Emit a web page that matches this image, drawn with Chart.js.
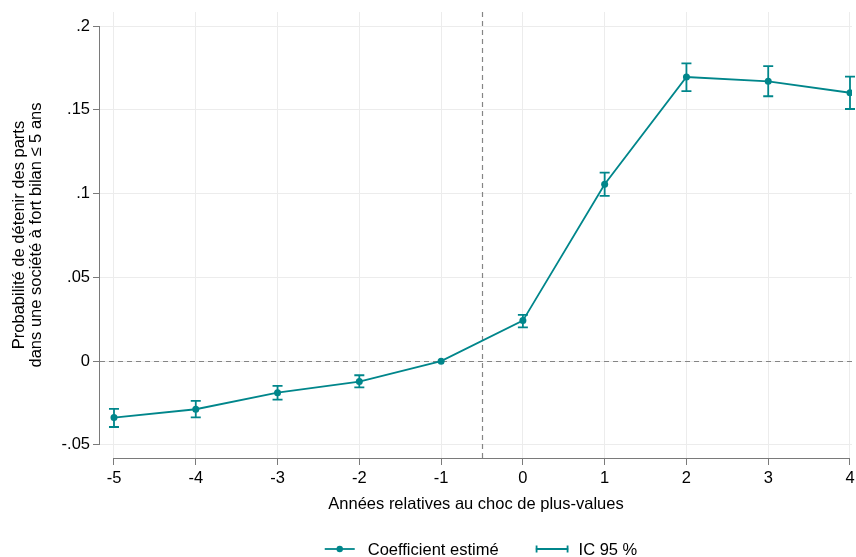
<!DOCTYPE html>
<html><head><meta charset="utf-8">
<script src="https://cdn.jsdelivr.net/npm/chart.js@4.4.1/dist/chart.umd.min.js"></script>
<style>html,body{margin:0;padding:0;background:#fff;overflow:hidden}</style>
</head><body><canvas id="c" width="856" height="557"></canvas>
<script>
const years = [-5, -4, -3, -2, -1, 0, 1, 2, 3, 4];
const coef = [-0.0337, -0.0287, -0.0188, -0.0122, 0, 0.0242, 0.1056, 0.1696, 0.1670, 0.1602];
const ciLow = [-0.0393, -0.0335, -0.0230, -0.0156, null, 0.0202, 0.0986, 0.1612, 0.1581, 0.1505];
const ciHigh = [-0.0285, -0.0237, -0.0148, -0.0084, null, 0.0276, 0.1125, 0.1777, 0.1761, 0.1698];
const xTicks = [-5, -4, -3, -2, -1, 0, 1, 2, 3, 4];
const yTicks = [-0.05, 0, 0.05, 0.1, 0.15, 0.2];
const yTickLabels = ['-.05', '0', '.05', '.1', '.15', '.2'];
const refX = [-0.5];
const refY = [0];
const xTitle = 'Années relatives au choc de plus-values';
const yTitle = ['Probabilité de détenir des parts', 'dans une société à fort bilan \u2264 5 ans'];
const legendLabels = ['Coefficient estimé', 'IC 95 %'];

const TEAL = '#00868b';
const FONT = '"Liberation Sans", Arial, Helvetica, sans-serif';
const AXIS = '#7a7a7a';

const refLines = {
  id: 'refLines',
  beforeDatasetsDraw(chart) {
    const {ctx, chartArea: a, scales: {x, y}} = chart;
    ctx.save();
    ctx.strokeStyle = '#858585';
    ctx.lineWidth = 1.2;
    ctx.setLineDash([5, 4]);
    refY.forEach(v => {
      const py = Math.round(y.getPixelForValue(v)) + 0.5;
      ctx.beginPath(); ctx.moveTo(a.left, py); ctx.lineTo(chart.width, py); ctx.stroke();
    });
    refX.forEach(v => {
      const px = Math.round(x.getPixelForValue(v)) + 0.5;
      ctx.beginPath(); ctx.moveTo(px, a.top); ctx.lineTo(px, a.bottom); ctx.stroke();
    });
    ctx.restore();
  }
};

const axisLines = {
  id: 'axisLines',
  afterDraw(chart) {
    const {ctx, chartArea: a, scales: {x, y}} = chart;
    ctx.save();
    ctx.strokeStyle = AXIS;
    ctx.lineWidth = 1;
    const x0 = x.getPixelForValue(xTicks[0]), x1 = x.getPixelForValue(xTicks[xTicks.length - 1]);
    ctx.beginPath(); ctx.moveTo(x0, a.bottom + 0.5); ctx.lineTo(x1, a.bottom + 0.5); ctx.stroke();
    const y0 = y.getPixelForValue(yTicks[0]), y1 = y.getPixelForValue(yTicks[yTicks.length - 1]);
    ctx.beginPath(); ctx.moveTo(a.left - 0.5, y0); ctx.lineTo(a.left - 0.5, y1); ctx.stroke();
    ctx.restore();
  }
};

const errorBars = {
  id: 'errorBars',
  beforeDatasetsDraw(chart) {
    const {ctx, scales: {x, y}} = chart;
    ctx.save();
    ctx.strokeStyle = TEAL;
    ctx.lineWidth = 1.8;
    const cap = 5;
    years.forEach((yr, i) => {
      if (ciLow[i] == null || ciHigh[i] == null) return;
      const px = x.getPixelForValue(yr);
      const lo = y.getPixelForValue(ciLow[i]);
      const hi = y.getPixelForValue(ciHigh[i]);
      ctx.beginPath();
      ctx.moveTo(px, lo); ctx.lineTo(px, hi);
      ctx.moveTo(px - cap, lo); ctx.lineTo(px + cap, lo);
      ctx.moveTo(px - cap, hi); ctx.lineTo(px + cap, hi);
      ctx.stroke();
    });
    ctx.restore();
  }
};

const customLegend = {
  id: 'customLegend',
  afterDraw(chart) {
    const {ctx} = chart;
    ctx.save();
    ctx.font = '16.5px ' + FONT;
    ctx.fillStyle = '#000';
    ctx.textBaseline = 'middle';
    const w1 = ctx.measureText(legendLabels[0]).width;
    const w2 = ctx.measureText(legendLabels[1]).width;
    const sym1 = 30, gap1 = 13, between = 37, sym2 = 33, gap2 = 10;
    const total = sym1 + gap1 + w1 + between + sym2 + gap2 + w2;
    let cx = 481 - total / 2;
    const cy = chart.height - 8;
    ctx.strokeStyle = TEAL;
    ctx.lineWidth = 1.8;
    ctx.beginPath(); ctx.moveTo(cx, cy); ctx.lineTo(cx + sym1, cy); ctx.stroke();
    ctx.fillStyle = TEAL;
    ctx.beginPath(); ctx.arc(cx + sym1 / 2, cy, 3.2, 0, Math.PI * 2); ctx.fill();
    cx += sym1 + gap1;
    ctx.fillStyle = '#000';
    ctx.fillText(legendLabels[0], cx, cy + 1);
    cx += w1 + between;
    ctx.beginPath();
    ctx.moveTo(cx, cy); ctx.lineTo(cx + sym2, cy);
    ctx.moveTo(cx + 1, cy - 3.5); ctx.lineTo(cx + 1, cy + 3.5);
    ctx.moveTo(cx + sym2 - 1, cy - 3.5); ctx.lineTo(cx + sym2 - 1, cy + 3.5);
    ctx.stroke();
    cx += sym2 + gap2;
    ctx.fillText(legendLabels[1], cx, cy + 1);
    ctx.restore();
  }
};

const whiteBg = {
  id: 'whiteBg',
  beforeDraw(chart) {
    const {ctx} = chart;
    ctx.save(); ctx.fillStyle = '#fff'; ctx.fillRect(0, 0, chart.width, chart.height); ctx.restore();
  }
};

function zeroPad(s) {
  s.paddingLeft = 0; s.paddingRight = 0; s.paddingTop = 0; s.paddingBottom = 0;
}

new Chart(document.getElementById('c'), {
  type: 'line',
  data: {
    datasets: [{
      label: legendLabels[0],
      data: years.map((v, i) => ({x: v, y: coef[i]})),
      borderColor: TEAL,
      backgroundColor: TEAL,
      borderWidth: 1.8,
      pointRadius: 3.5,
      pointBorderWidth: 0,
      pointBackgroundColor: TEAL,
      tension: 0
    }]
  },
  options: {
    animation: false,
    responsive: false,
    devicePixelRatio: 1,
    layout: {padding: {top: 12, right: 0, bottom: 32, left: 0}},
    plugins: {legend: {display: false}, tooltip: {enabled: false}},
    scales: {
      x: {
        type: 'linear',
        min: -5.171, max: 4.0245,
        afterBuildTicks: s => { s.ticks = xTicks.map(v => ({value: v})); },
        afterFit: s => { s.height = 67; zeroPad(s); },
        ticks: {font: {family: FONT, size: 16.5}, color: '#000', padding: 4, maxRotation: 0, autoSkip: false,
                callback: v => String(v)},
        grid: {color: '#ececec', lineWidth: 1, tickColor: AXIS, tickLength: 7},
        border: {display: false},
        title: {display: true, text: xTitle, font: {family: FONT, size: 16.5}, color: '#000', padding: {top: 0, bottom: 11}}
      },
      y: {
        type: 'linear',
        min: -0.0578, max: 0.2084,
        afterBuildTicks: s => { s.ticks = yTicks.map(v => ({value: v})); },
        afterFit: s => { s.width = 100; zeroPad(s); },
        ticks: {font: {family: FONT, size: 16.5}, color: '#000', padding: 3,
                callback: (v, i) => yTickLabels[i]},
        grid: {color: '#ececec', lineWidth: 1, tickColor: AXIS, tickLength: 7},
        border: {display: false},
        title: {display: true, text: yTitle, font: {family: FONT, size: 16.5, lineHeight: 1.05}, color: '#000', padding: {top: 10.5, bottom: 0}}
      }
    }
  },
  plugins: [whiteBg, refLines, errorBars, axisLines, customLegend]
});
</script>
</body></html>
